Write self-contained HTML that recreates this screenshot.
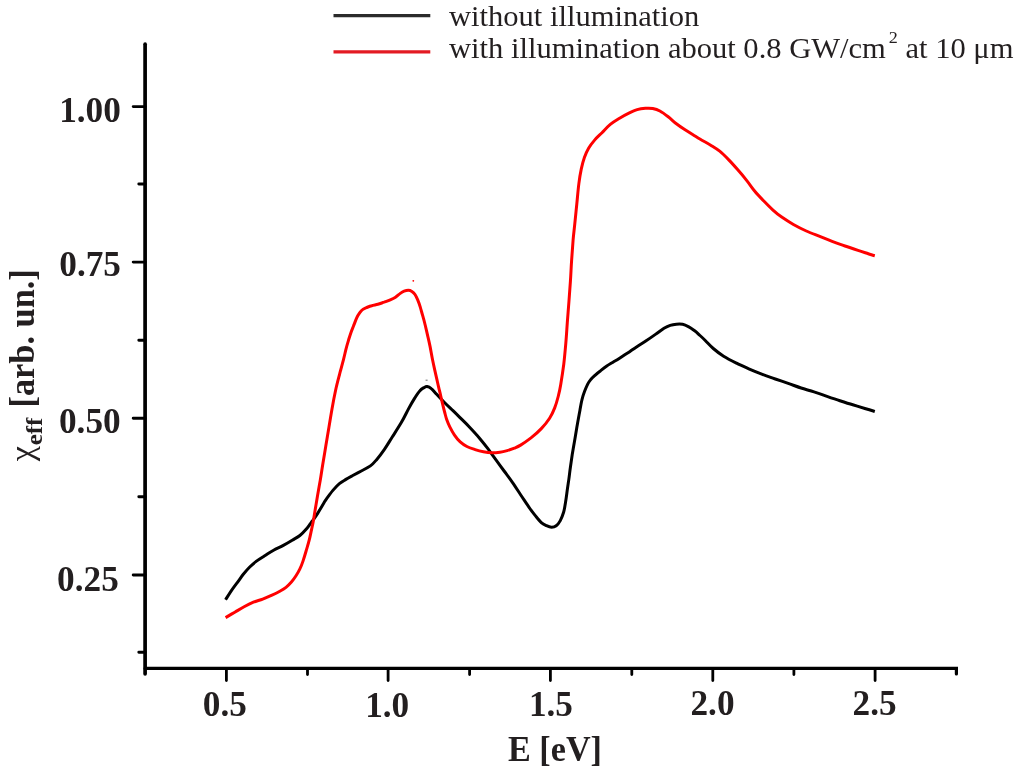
<!DOCTYPE html>
<html><head><meta charset="utf-8"><title>chart</title>
<style>html,body{margin:0;padding:0;background:#fff}svg{display:block}text{font-family:"Liberation Serif",serif;fill:#231f20}.b{font-weight:bold}</style></head><body>
<svg width="1024" height="774" viewBox="0 0 1024 774">
<rect width="1024" height="774" fill="#fff"/>
<g stroke="#000" stroke-linecap="round" fill="none">
<path stroke-width="3.7" d="M145.1 44.2 V673.8"/>
<path stroke-width="3.2" d="M145.1 668.4 H956.4 V674"/>
<path stroke-width="2.9" d="M133.2 106.6 H145.1M133.2 262.1 H145.1M133.2 418.3 H145.1M133.2 575.0 H145.1M138.8 184.0 H145.1M138.8 340.2 H145.1M138.8 496.8 H145.1M138.8 652.2 H145.1"/>
<path stroke-width="2.8" d="M226.4 668.4 V680.5M388.1 668.4 V680.5M550.4 668.4 V680.5M712.8 668.4 V680.5M875.1 668.4 V680.5M307.5 668.4 V674.5M469.6 668.4 V674.5M631.8 668.4 V674.5M793.9 668.4 V674.5"/>
</g>
<path d="M225.6 599.7C226.5 598.3 229.0 594.1 230.9 591.3C232.8 588.5 235.0 585.6 237.1 582.8C239.2 580.0 241.2 576.9 243.3 574.3C245.4 571.7 247.3 569.5 249.5 567.3C251.7 565.1 254.0 563.0 256.5 561.1C259.0 559.2 261.4 557.8 264.3 556.0C267.2 554.2 270.5 551.9 273.6 550.2C276.7 548.5 279.8 547.3 282.9 545.6C286.0 543.9 289.4 541.9 292.2 540.2C295.0 538.5 297.6 537.3 299.9 535.5C302.2 533.7 304.3 531.4 306.1 529.3C307.9 527.2 309.6 524.6 310.8 523.1C312.0 521.6 311.9 521.7 313.1 520.0C314.3 518.3 316.0 516.0 317.8 513.1C319.6 510.2 322.6 505.1 324.0 502.7C325.4 500.3 325.0 500.9 326.5 498.8C328.0 496.8 330.8 492.9 332.9 490.4C335.0 487.9 337.2 485.4 339.4 483.6C341.6 481.8 343.8 480.7 345.9 479.4C348.0 478.1 349.7 477.2 352.3 475.8C354.9 474.4 358.3 472.6 361.3 471.0C364.3 469.4 367.8 467.8 370.4 465.9C373.0 464.0 374.4 462.2 376.8 459.4C379.2 456.6 382.0 452.9 384.6 449.1C387.2 445.3 389.6 441.2 392.4 436.8C395.2 432.4 398.6 427.2 401.3 422.6C404.0 418.0 406.3 413.0 408.5 408.9C410.7 404.8 412.8 401.1 414.7 398.1C416.6 395.1 418.3 392.4 419.9 390.7C421.4 388.9 422.8 388.3 424.0 387.6C425.2 386.9 425.9 386.4 427.1 386.6C428.3 386.8 429.8 387.4 431.3 388.6C432.9 389.8 434.2 391.6 436.4 394.0C438.6 396.4 441.9 399.9 444.7 402.7C447.5 405.5 450.4 408.2 453.0 410.7C455.6 413.2 457.4 415.0 460.0 417.6C462.6 420.2 465.7 423.1 468.9 426.5C472.1 429.9 476.2 434.3 479.3 437.9C482.4 441.5 484.8 444.6 487.5 448.2C490.2 451.8 493.0 455.8 495.8 459.6C498.6 463.4 501.3 467.2 504.1 471.0C506.9 474.8 509.6 478.4 512.4 482.3C515.1 486.2 517.9 490.6 520.6 494.7C523.4 498.8 526.5 503.7 528.9 507.1C531.3 510.6 533.0 512.8 535.1 515.4C537.2 518.0 539.4 520.9 541.3 522.6C543.2 524.3 544.8 524.9 546.5 525.7C548.2 526.5 550.0 527.2 551.6 527.2C553.2 527.2 554.8 526.8 556.2 525.7C557.7 524.6 559.1 522.8 560.3 520.6C561.5 518.4 562.7 515.3 563.6 512.3C564.5 509.3 564.9 505.8 565.5 502.4C566.1 499.0 566.5 495.8 567.0 492.0C567.5 488.2 568.2 483.7 568.8 479.6C569.4 475.5 569.8 471.3 570.4 467.2C571.0 463.1 571.6 458.9 572.2 454.8C572.9 450.7 573.6 446.5 574.3 442.4C575.0 438.3 575.8 433.7 576.4 430.0C577.0 426.3 577.5 423.7 578.1 420.3C578.7 416.9 579.4 413.3 580.0 409.9C580.6 406.4 581.2 402.7 582.0 399.6C582.8 396.5 583.6 393.9 584.6 391.3C585.6 388.7 586.7 386.1 587.7 384.1C588.7 382.1 589.6 381.0 590.8 379.5C592.0 378.0 593.4 376.8 595.0 375.3C596.6 373.8 598.6 372.2 600.6 370.7C602.6 369.1 604.7 367.4 606.8 366.0C608.9 364.6 610.9 363.5 613.0 362.2C615.1 360.9 617.4 359.6 619.2 358.4C621.1 357.2 622.6 356.2 624.4 355.0C626.2 353.8 628.2 352.6 630.0 351.4C631.8 350.2 632.5 349.6 635.1 347.9C637.7 346.2 642.0 343.6 645.4 341.3C648.8 339.0 652.7 336.3 655.8 334.1C658.9 331.9 661.6 329.8 664.0 328.3C666.4 326.9 668.1 326.1 670.2 325.4C672.3 324.7 674.3 324.4 676.4 324.2C678.5 324.0 680.5 323.9 682.6 324.3C684.7 324.7 686.7 325.7 688.8 326.8C690.9 327.9 693.1 329.6 695.0 331.0C696.9 332.4 698.2 333.9 700.0 335.5C701.8 337.1 703.3 338.5 705.5 340.7C707.7 342.9 710.3 345.9 713.3 348.5C716.3 351.1 719.7 353.8 723.6 356.2C727.5 358.6 732.2 361.0 736.5 363.2C740.8 365.4 745.1 367.2 749.4 369.1C753.7 371.0 758.1 372.7 762.4 374.3C766.7 375.9 771.0 377.5 775.3 379.0C779.6 380.5 783.9 381.9 788.2 383.4C792.5 384.9 796.8 386.6 801.1 388.0C805.4 389.4 809.7 390.5 814.0 391.9C818.3 393.3 822.7 394.8 827.0 396.3C831.3 397.8 835.6 399.3 839.9 400.7C844.2 402.1 848.5 403.5 852.8 404.8C857.1 406.1 862.0 407.6 865.7 408.7C869.4 409.8 873.2 411.0 874.8 411.5" fill="none" stroke="#000" stroke-width="3" stroke-linecap="butt" stroke-linejoin="round"/>
<path d="M225.6 617.6C227.1 616.7 231.7 614.0 234.8 612.2C237.9 610.4 241.0 608.5 244.1 606.8C247.2 605.1 250.3 603.5 253.4 602.2C256.5 600.9 259.6 600.3 262.7 599.1C265.8 597.9 269.1 596.5 272.0 595.2C274.9 593.9 277.5 592.6 279.8 591.3C282.1 590.0 284.1 588.9 286.0 587.4C287.9 585.9 289.7 583.9 291.4 582.0C293.1 580.1 294.6 578.0 296.0 575.8C297.4 573.6 298.7 571.2 299.9 568.8C301.1 566.3 302.0 564.1 303.0 561.1C304.0 558.1 305.1 554.5 306.1 551.0C307.1 547.5 308.3 543.8 309.2 540.2C310.1 536.6 310.9 532.4 311.6 529.3C312.3 526.1 312.7 524.7 313.3 521.3C313.9 517.9 314.6 513.0 315.3 508.9C316.0 504.8 316.6 501.3 317.4 496.5C318.2 491.7 319.4 485.3 320.3 480.0C321.2 474.7 321.8 470.3 322.7 464.7C323.6 459.1 324.8 452.3 325.8 446.1C326.8 439.9 327.9 433.7 328.9 427.5C329.9 421.3 330.9 415.1 332.0 408.9C333.1 402.7 334.4 395.9 335.6 390.3C336.8 384.7 338.5 378.4 339.4 375.0C340.2 371.6 340.0 372.4 340.7 370.0C341.4 367.6 342.4 363.7 343.3 360.3C344.2 356.9 345.0 353.2 345.8 349.9C346.6 346.6 347.5 343.5 348.4 340.6C349.3 337.7 350.1 334.9 351.0 332.4C351.9 329.9 352.7 328.1 353.6 325.7C354.6 323.3 355.7 320.1 356.7 317.9C357.7 315.7 358.8 314.1 359.8 312.7C360.8 311.3 361.8 310.2 362.9 309.4C364.0 308.5 365.0 308.2 366.5 307.6C368.0 307.0 369.8 306.2 371.7 305.7C373.6 305.1 375.8 304.9 377.9 304.3C380.0 303.7 382.0 302.9 384.1 302.2C386.2 301.4 388.4 300.6 390.3 299.8C392.2 299.0 393.8 298.3 395.5 297.2C397.2 296.1 398.9 294.4 400.3 293.4C401.7 292.4 402.8 291.7 404.1 291.2C405.4 290.7 407.0 290.3 408.3 290.3C409.6 290.3 410.8 290.7 411.9 291.4C413.0 292.1 414.1 293.1 415.0 294.5C415.9 295.9 416.7 297.5 417.6 299.6C418.5 301.7 419.4 304.2 420.2 306.9C421.0 309.6 421.8 312.6 422.7 315.7C423.6 318.8 424.5 322.1 425.3 325.5C426.1 328.9 426.9 332.4 427.7 335.8C428.5 339.2 429.2 342.1 430.0 346.1C430.8 350.1 431.8 356.1 432.6 360.0C433.4 363.9 433.9 366.2 434.6 369.3C435.3 372.4 436.0 375.5 436.7 378.6C437.4 381.7 438.1 385.0 438.8 387.9C439.5 390.8 440.2 393.4 440.8 396.2C441.4 398.9 442.1 401.8 442.7 404.4C443.3 407.0 443.9 409.5 444.6 412.0C445.3 414.5 445.8 417.0 446.7 419.5C447.6 422.0 448.5 424.3 449.8 426.9C451.1 429.5 452.8 432.6 454.5 435.1C456.2 437.6 458.1 440.0 460.2 441.9C462.3 443.8 464.4 445.2 466.9 446.5C469.4 447.8 472.4 448.7 475.1 449.6C477.9 450.5 480.6 451.2 483.4 451.7C486.2 452.2 488.9 452.6 491.7 452.7C494.4 452.8 497.3 452.5 499.9 452.2C502.5 451.9 504.8 451.3 507.2 450.6C509.6 449.9 512.2 449.0 514.4 448.1C516.6 447.2 517.8 446.8 520.6 445.1C523.4 443.4 527.5 440.6 531.0 437.9C534.5 435.1 538.2 431.9 541.3 428.6C544.4 425.3 547.4 421.6 549.6 418.2C551.8 414.8 553.3 411.5 554.7 407.9C556.1 404.3 557.2 400.4 558.2 396.5C559.2 392.6 559.8 390.1 560.7 384.7C561.6 379.3 562.9 370.9 563.8 364.0C564.6 357.1 565.2 350.3 565.8 343.4C566.4 336.5 566.8 329.6 567.3 322.7C567.8 315.8 568.4 308.9 568.9 302.0C569.4 295.1 569.9 288.2 570.4 281.3C570.9 274.4 571.1 267.6 571.6 260.7C572.1 253.8 572.6 246.0 573.1 240.0C573.6 234.0 574.1 230.7 574.7 224.7C575.3 218.7 576.1 210.9 576.8 204.0C577.5 197.1 578.1 189.2 578.9 183.4C579.6 177.6 580.4 173.2 581.3 168.9C582.2 164.6 583.2 160.9 584.4 157.5C585.6 154.1 586.9 151.1 588.6 148.2C590.3 145.3 592.6 142.5 594.8 139.9C597.0 137.3 599.4 135.3 602.0 132.7C604.6 130.1 607.4 126.8 610.3 124.4C613.2 122.0 616.5 120.1 619.6 118.2C622.7 116.3 626.0 114.5 628.9 113.1C631.8 111.7 634.5 110.4 637.2 109.6C640.0 108.8 642.8 108.5 645.4 108.3C648.0 108.1 650.3 108.0 652.7 108.5C655.1 109.0 657.3 109.6 659.9 111.0C662.5 112.4 665.5 114.7 668.2 116.8C671.0 118.9 673.6 121.7 676.4 123.8C679.1 125.9 681.9 127.8 684.7 129.6C687.5 131.4 690.4 133.2 693.0 134.8C695.6 136.4 697.3 137.6 700.3 139.3C703.2 141.0 707.5 143.2 710.7 145.2C713.9 147.2 716.7 148.8 719.7 151.2C722.7 153.6 725.8 156.8 728.8 159.9C731.8 163.0 734.8 166.4 737.8 169.8C740.8 173.2 744.0 177.1 746.8 180.6C749.6 184.1 751.8 187.6 754.6 191.0C757.4 194.4 760.6 197.7 763.6 200.8C766.6 203.9 769.7 207.1 772.7 209.8C775.7 212.5 778.2 214.7 781.7 217.1C785.2 219.5 789.3 222.2 793.4 224.5C797.5 226.8 802.0 229.1 806.3 231.0C810.6 232.9 814.9 234.5 819.2 236.2C823.5 237.9 827.8 239.7 832.1 241.3C836.4 242.9 840.7 244.5 845.0 246.0C849.3 247.5 854.1 249.1 858.0 250.4C861.9 251.7 865.5 252.8 868.3 253.7C871.1 254.6 873.7 255.5 874.8 255.8" fill="none" stroke="#f00" stroke-width="3" stroke-linecap="butt" stroke-linejoin="round"/>
<circle cx="413.3" cy="280.8" r="0.9" fill="#f00"/>
<path d="M425.6 380.2h2" stroke="#444" stroke-width="0.8"/>
<path d="M333.5 15.7H430.3" stroke="#2b2b2b" stroke-width="3.2"/>
<path d="M333.5 51.8H430.3" stroke="#e31b23" stroke-width="3.2"/>
<text id="l1" transform="translate(449 26) scale(1.036 1)" font-size="29.5">without illumination</text>
<text id="l2" transform="translate(449 58.4) scale(1.036 1)" font-size="29.5">with illumination about 0.8 GW/cm<tspan font-size="17.5" dx="2.8" dy="-15.5">2</tspan><tspan dy="15.5"> at 10 μm</tspan></text>
<text class="b" transform="translate(59.20 121.70) scale(0.99 1)" font-size="35.6">1.00</text>
<text class="b" transform="translate(59.30 276.20) scale(0.99 1)" font-size="35.6">0.75</text>
<text class="b" transform="translate(59.00 432.65) scale(0.99 1)" font-size="35.6">0.50</text>
<text class="b" transform="translate(57.10 590.65) scale(0.99 1)" font-size="35.6">0.25</text>
<text class="b" transform="translate(202.87 715.70) scale(0.99 1)" font-size="35.6">0.5</text>
<text class="b" transform="translate(365.13 717.25) scale(0.99 1)" font-size="35.6">1.0</text>
<text class="b" transform="translate(528.95 715.75) scale(0.99 1)" font-size="35.6">1.5</text>
<text class="b" transform="translate(690.46 714.75) scale(0.99 1)" font-size="35.6">2.0</text>
<text class="b" transform="translate(852.61 715.25) scale(0.99 1)" font-size="35.6">2.5</text>
<text class="b" id="xlab" transform="translate(507.98 760.70) scale(0.95 1)" font-size="36">E [eV]</text>
<g transform="translate(34.4 461.5) rotate(-90)">
<text x="0.3" y="-1.8" font-size="34">χ</text>
<text class="b" transform="translate(16.2 8) scale(1.04 1)" font-size="24">eff</text>
<text class="b" transform="translate(54 0) scale(0.967 1)" font-size="35.5">[arb. un.]</text>
</g>
</svg>
</body></html>
